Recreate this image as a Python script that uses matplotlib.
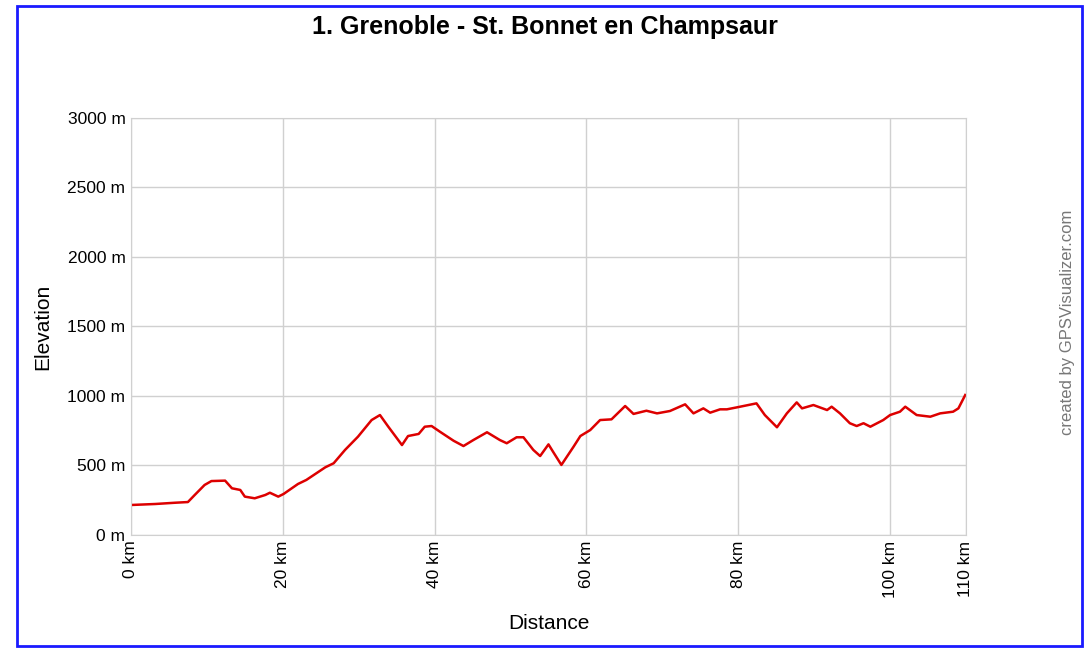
import matplotlib
matplotlib.use('Agg')
import matplotlib.pyplot as plt
from matplotlib.patches import Rectangle

plt.rcParams['font.family'] = ['Liberation Sans', 'DejaVu Sans']

# profil (km, m)
dist_km = [0.0, 0.1, 3.2, 5.8, 7.5, 8.4, 9.7, 10.6, 12.4, 13.3, 14.4, 15.0, 16.3, 17.7,
           18.3, 19.4, 20.1, 22.0, 23.1, 25.6, 26.7, 28.2, 29.9, 31.7, 32.8, 33.9,
           35.7, 36.5, 37.9, 38.7, 39.6, 40.7, 42.5, 43.8, 45.1, 46.9, 48.6, 49.5,
           50.8, 51.7, 53.0, 53.9, 55.0, 55.6, 56.7, 58.3, 59.2, 60.5, 61.8, 63.3,
           65.1, 66.2, 67.9, 69.3, 71.0, 73.0, 74.1, 75.4, 76.3, 77.6, 78.5, 79.8,
           82.4, 83.5, 85.1, 86.4, 87.7, 88.4, 89.9, 91.7, 92.3, 93.4, 94.7, 95.6,
           96.5, 97.4, 99.1, 100.0, 101.3, 102.0, 103.5, 105.3, 106.6, 108.3, 109.0,
           109.9]
elev_m = [216, 216, 223, 232, 237, 288, 360, 388, 391, 336, 324, 276, 264, 288,
          304, 276, 295, 367, 396, 487, 516, 612, 707, 827, 863, 779,
          647, 712, 727, 779, 784, 743, 678, 640, 683, 739, 683, 660,
          703, 703, 612, 568, 652, 599, 504, 635, 712, 755, 827, 832,
          928, 871, 894, 875, 892, 940, 875, 911, 880, 904, 904, 918,
          947, 863, 775, 875, 954, 911, 935, 899, 923, 875, 804, 784,
          804, 779, 827, 863, 887, 923, 863, 851, 875, 887, 911,
          1007]

x_ticks = [0, 20, 40, 60, 80, 100, 110]
y_ticks = [0, 500, 1000, 1500, 2000, 2500, 3000]

fig = plt.figure(figsize=(10.86, 6.48), dpi=100)
ax = fig.add_axes([0.1206, 0.1744, 0.7689, 0.6435])

ax.plot(dist_km, elev_m, color='#dd0000', lw=1.8)
ax.set_xlim(0, 110)
ax.set_ylim(0, 3000)
ax.set_xticks(x_ticks)
ax.set_xticklabels([f'{t} km' for t in x_ticks], rotation=90, fontsize=12.5)
ax.set_yticks(y_ticks)
ax.set_yticklabels([f'{t} m' for t in y_ticks], fontsize=12.5)
ax.tick_params(length=0, pad=4)
ax.grid(True, color='#d0d0d0', lw=1)
for s in ax.spines.values():
    s.set_color('#d0d0d0')
ax.set_axisbelow(True)

ax.set_xlabel('Distance', fontsize=15, labelpad=12)
ax.set_ylabel('Elevation', fontsize=15, labelpad=11)

fig.text(0.502, 0.958, '1. Grenoble - St. Bonnet en Champsaur', ha='center', va='center',
         fontsize=18, fontweight='bold')
fig.text(0.983, 0.503, 'created by GPSVisualizer.com', rotation=90, ha='center',
         va='center', fontsize=12, color='#777777')

# cadre bleu
fig.patches.append(Rectangle((17 / 1086, 2 / 648), 1065 / 1086, 640 / 648,
                             transform=fig.transFigure, fill=False,
                             edgecolor='#1a1aff', lw=2))

fig.savefig('out.png', dpi=100)
